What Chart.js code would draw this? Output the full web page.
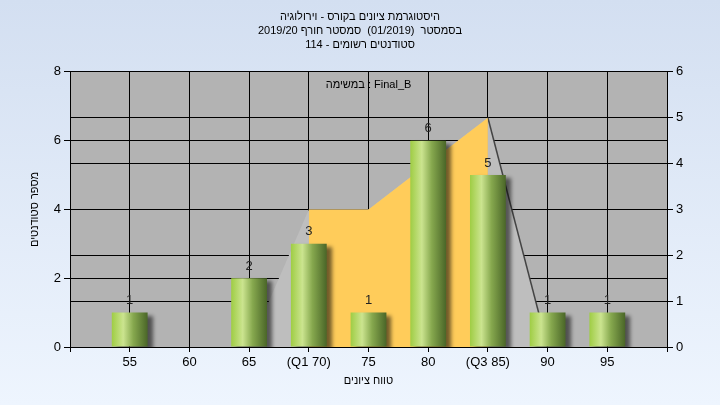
<!DOCTYPE html>
<html lang="he">
<head>
<meta charset="utf-8">
<title>היסטוגרמת ציונים</title>
<script src="https://cdn.jsdelivr.net/npm/chart.js"></script>
<style>
  html, body { margin: 0; padding: 0; }
  #wrap { width: 720px; height: 405px; background: linear-gradient(#d3dff1, #eef5fe); }
</style>
</head>
<body>
<div id="wrap"><canvas id="gradesChart" width="720" height="405"></canvas></div>
<script>
// grade bins on the x axis and number of students in each bin
const grades = [55, 60, 65, 70, 75, 80, 85, 90, 95];
const gradeLabels = ['55', '60', '65', '(Q1 70)', '75', '80', '(Q3 85)', '90', '95'];
const students = [1, 0, 2, 3, 1, 6, 5, 1, 1];

// spread curve, read on the right axis
const curveX = [65, 70, 75, 80, 85, 90];
const curveY = [0, 3, 3, 4, 5, 0];
const q1 = 70, q3 = 85;

const titleLines = [
  'היסטוגרמת ציונים בקורס - וירולוגיה',
  'בסמסטר  (01/2019)  סמסטר חורף 2019/20',
  'סטודנטים רשומים - 114'
];
const seriesName = 'במשימה : Final_B';
const yTitle = 'מספר סטודנטים';
const xTitle = 'טווח ציונים';

const FONT = 'Liberation Sans, Arial, sans-serif';
Chart.defaults.font.family = FONT;
Chart.defaults.color = '#000';

// green cylinder-like gradient for each bar
function barGradient(c) {
  const chart = c.chart, xs = chart.scales.x;
  if (!chart.chartArea || !xs || c.type !== 'data') return '#8db646';
  const cx = xs.getPixelForValue(c.parsed.x);
  const half = (xs.getPixelForValue(grades[1]) - xs.getPixelForValue(grades[0])) * 0.3;
  const g = chart.ctx.createLinearGradient(cx - half, 0, cx + half, 0);
  g.addColorStop(0, '#9fcd44');
  g.addColorStop(0.32, '#cbe48f');
  g.addColorStop(0.6, '#86a84e');
  g.addColorStop(1, '#4a6628');
  return g;
}

const decor = {
  id: 'decor',
  beforeDraw(chart) {
    const {ctx, chartArea: a} = chart;
    ctx.save();
    ctx.fillStyle = '#b3b3b3';
    ctx.fillRect(a.left, a.top, a.right - a.left, a.bottom - a.top);
    ctx.restore();
  },
  beforeDatasetDraw(chart, args) {
    if (args.meta.type !== 'bar') return;
    const ctx = chart.ctx;
    ctx.save();
    ctx.shadowColor = 'rgba(0,0,0,0.55)';
    ctx.shadowBlur = 4;
    ctx.shadowOffsetX = 5;
    ctx.shadowOffsetY = 3;
  },
  afterDatasetDraw(chart, args) {
    if (args.meta.type === 'bar') chart.ctx.restore();
  },
  afterDatasetsDraw(chart) {
    const {ctx, chartArea: a} = chart;
    ctx.save();
    ctx.textAlign = 'center';
    ctx.textBaseline = 'middle';
    ctx.fillStyle = '#222';
    ctx.font = '13px ' + FONT;
    const meta = chart.getDatasetMeta(0);
    meta.data.forEach((bar, i) => {
      if (!students[i]) return;
      ctx.fillText(String(students[i]), bar.x, bar.y - 12);
    });
    ctx.fillStyle = '#000';
    ctx.font = '11px ' + FONT;
    ctx.fillText(seriesName, (a.left + a.right) / 2, a.top + 13);
    ctx.restore();
  }
};

new Chart('gradesChart', {
  data: {
    datasets: [
      {
        type: 'bar',
        data: grades.map((g, i) => ({x: g, y: students[i]})),
        backgroundColor: barGradient,
        borderWidth: 0,
        categoryPercentage: 0.8,
        barPercentage: 0.75,
        yAxisID: 'y',
        order: 0
      },
      {
        type: 'line',
        data: curveX.map((x, i) => ({x: x, y: curveY[i]}))
          .filter(p => p.x >= q1 && p.x <= q3),
        fill: 'origin',
        backgroundColor: '#ffcc5a',
        borderColor: 'rgba(0,0,0,0)',
        pointRadius: 0,
        yAxisID: 'y2',
        order: 1
      },
      {
        type: 'line',
        data: curveX.map((x, i) => ({x: x, y: curveY[i]})),
        fill: 'origin',
        backgroundColor: '#bebebe',
        borderWidth: 1.5,
        borderColor: '#444',
        segment: {
          borderColor: c => c.p0.parsed.x >= q3 ? '#444' : 'rgba(0,0,0,0)'
        },
        pointRadius: 0,
        yAxisID: 'y2',
        order: 2
      }
    ]
  },
  options: {
    responsive: false,
    animation: false,
    layout: {padding: 0},
    plugins: {
      legend: {display: false},
      tooltip: {enabled: false},
      title: {
        display: true,
        text: titleLines,
        color: '#000',
        font: {size: 11, weight: 'normal', lineHeight: 1.27},
        padding: {top: 10, bottom: 20}
      }
    },
    scales: {
      x: {
        type: 'linear',
        min: 50,
        max: 100,
        offset: false,
        afterFit: s => { s.height = 58; },
        ticks: {
          stepSize: 5,
          autoSkip: false,
          maxRotation: 0,
          font: {size: 13},
          callback: v => {
            const i = grades.indexOf(v);
            return i < 0 ? '' : gradeLabels[i];
          }
        },
        grid: {color: '#000', tickLength: 5, offset: false},
        border: {color: '#000'},
        title: {display: true, text: xTitle, font: {size: 11}, padding: {top: 0, bottom: 17}}
      },
      y: {
        position: 'left',
        min: 0,
        max: 8,
        afterFit: s => { s.width = 70; },
        ticks: {stepSize: 2, font: {size: 13}},
        grid: {color: '#000', tickLength: 6},
        border: {color: '#000'},
        title: {display: true, text: yTitle, font: {size: 11}, padding: {top: 28, bottom: 0}}
      },
      y2: {
        position: 'right',
        min: 0,
        max: 6,
        afterFit: s => { s.width = 53; },
        ticks: {stepSize: 1, font: {size: 13}},
        grid: {color: '#000', tickLength: 6},
        border: {color: '#000'}
      }
    }
  },
  plugins: [decor]
});
</script>
</body>
</html>
